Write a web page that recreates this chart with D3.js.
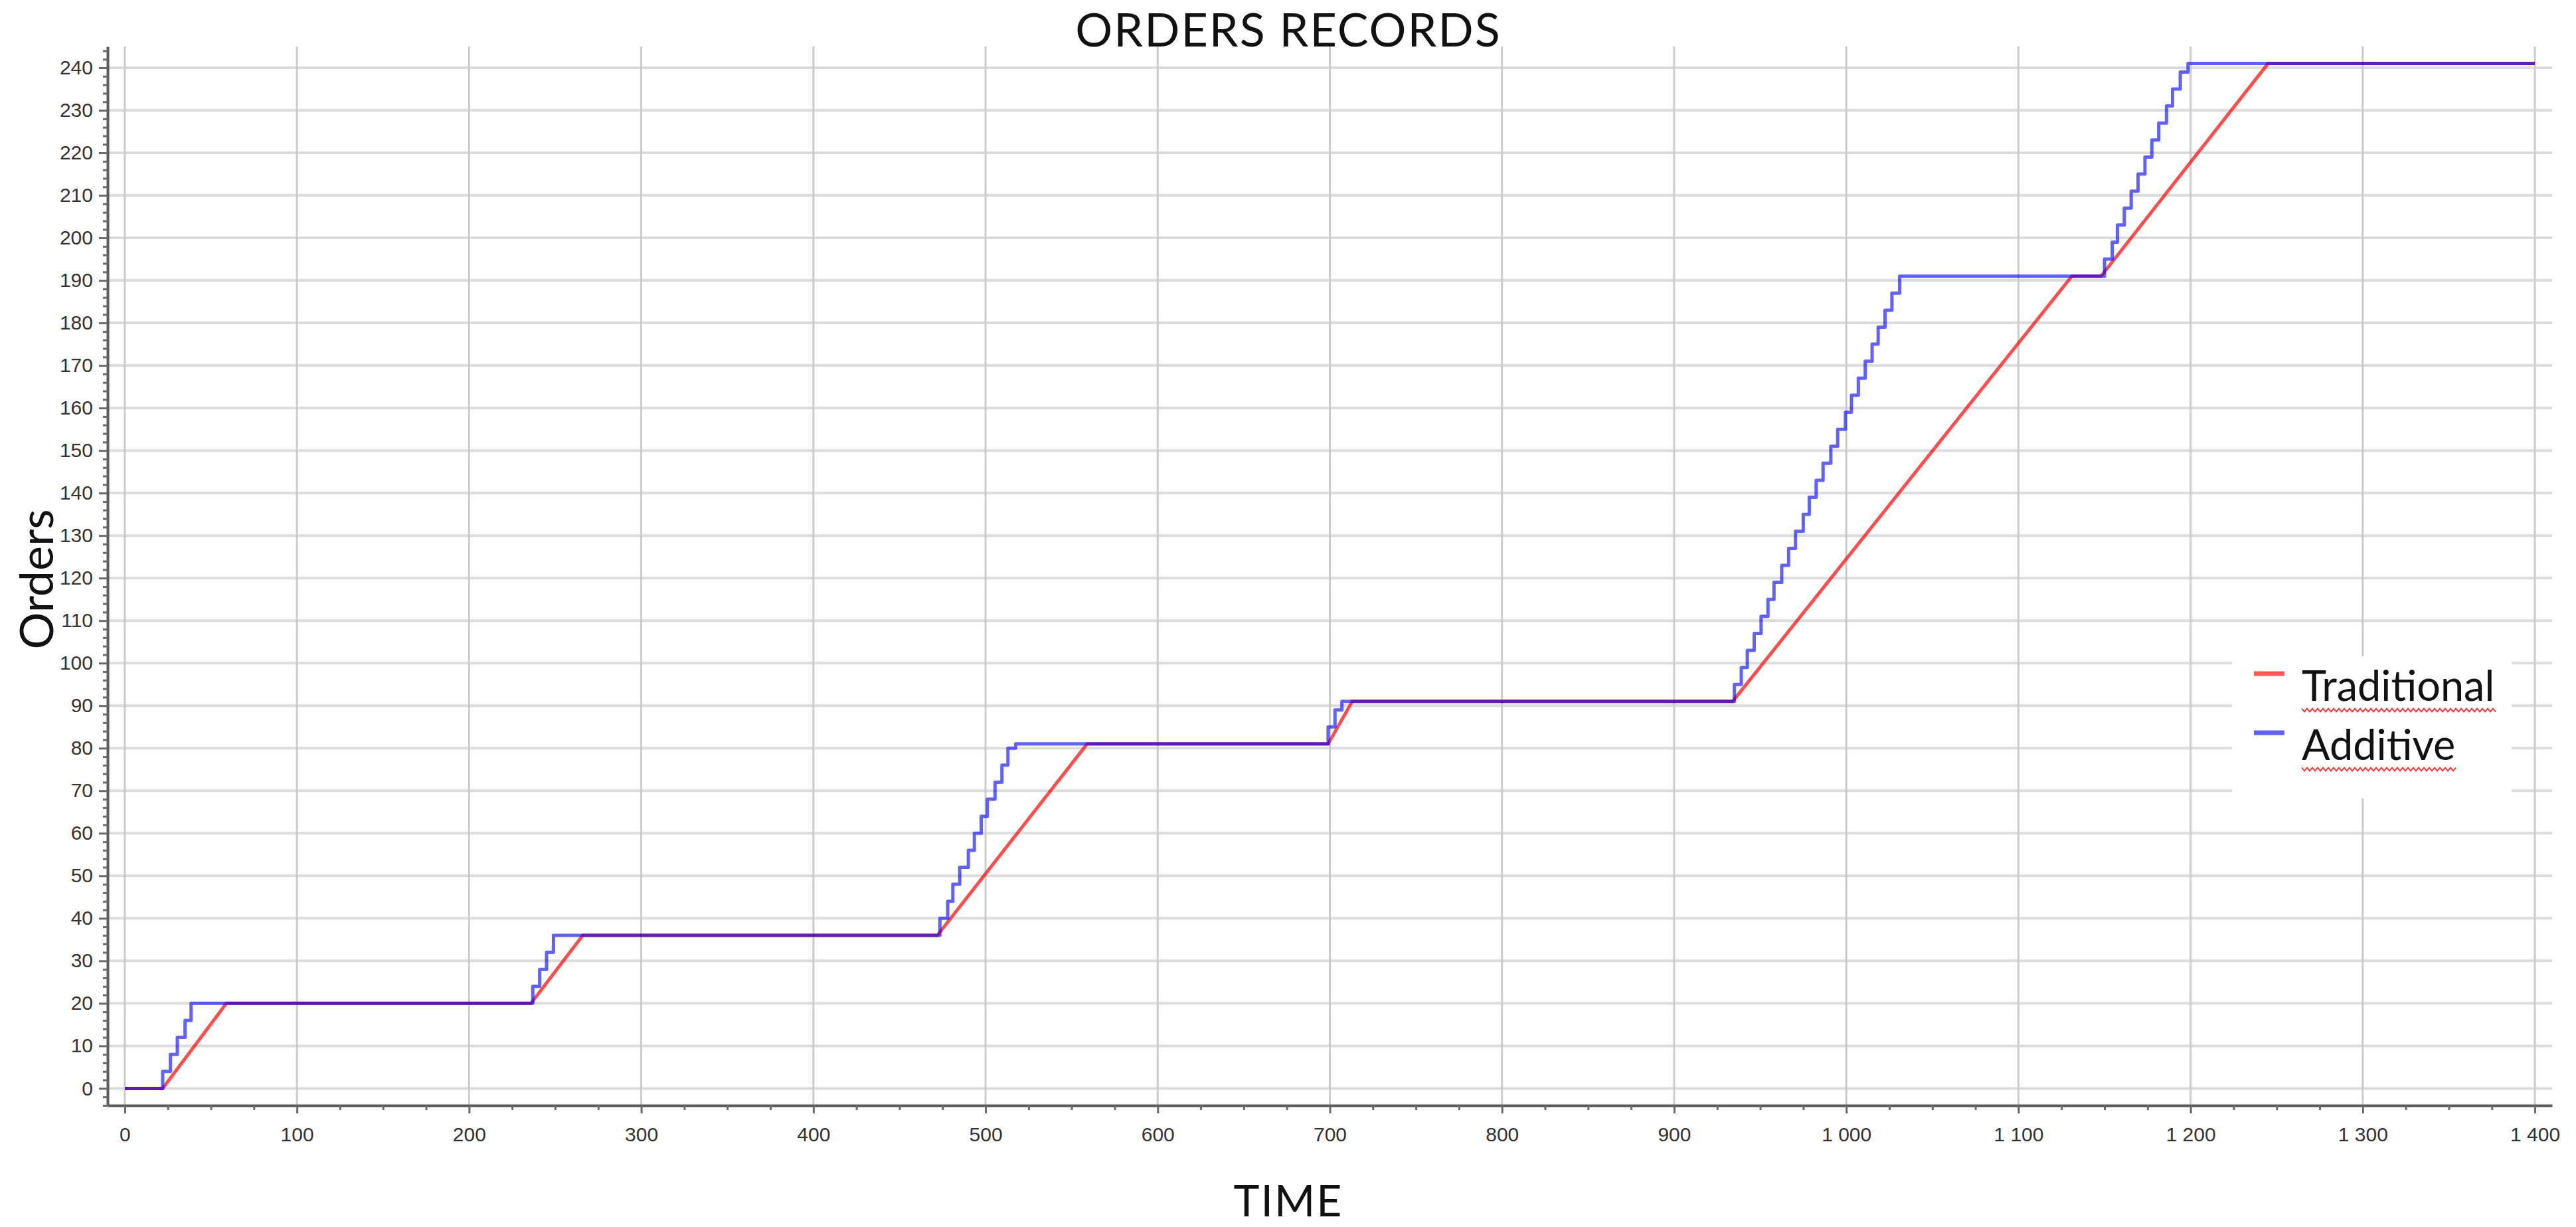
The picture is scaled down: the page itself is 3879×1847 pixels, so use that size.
<!DOCTYPE html>
<html>
<head>
<meta charset="utf-8">
<script src="https://cdn.jsdelivr.net/npm/d3@7"></script>
<style>
  body { margin: 0; background: #fff; }
  svg { display: block; }
  .axis-label { font-family: "Liberation Sans", Arial, sans-serif; font-size: 30px; fill: #333; }
  .title { font-family: Lato, "Open Sans", sans-serif; fill: #111; }
</style>
</head>
<body>
<svg></svg>
<script>
// series: time (x) and cumulative orders (y)
const traditionalTime   = [0, 22, 59, 236, 266, 472, 559, 699, 713, 934, 1131, 1148, 1245, 1400];
const traditionalOrders = [0, 0, 20, 20, 36, 36, 81, 81, 91, 91, 191, 191, 241, 241];

const additiveTime = [0, 22, 26.5, 30.5, 35, 38.5,
  237, 241, 245, 249,
  473.5, 478, 481, 485, 490, 493.5, 497.5, 501, 505.5, 509.5, 513, 517.5,
  699, 703, 707,
  935, 939, 942.5, 946.5, 950.5, 954.5, 958, 962.5, 966.5, 970.5, 975, 978.5, 982.5, 986.5,
  991, 995, 999.5, 1003, 1007, 1011, 1015, 1018.5, 1022.5, 1026.5, 1031,
  1150, 1154.5, 1157.5, 1161.5, 1165.5, 1169.5, 1173.5, 1177.5, 1181.5, 1186, 1189.5, 1194, 1198.5,
  1400];
const additiveOrders = [0, 4, 8, 12, 16, 20,
  24, 28, 32, 36,
  40, 44, 48, 52, 56, 60, 64, 68, 72, 76, 80, 81,
  85, 89, 91,
  95, 99, 103, 107, 111, 115, 119, 123, 127, 131, 135, 139, 143, 147,
  151, 155, 159, 163, 167, 171, 175, 179, 183, 187, 191,
  195, 199, 203, 207, 211, 215, 219, 223, 227, 231, 235, 239, 241,
  241];

const seriesNames = ["Traditional", "Additive"];
const xTickValues = [0, 100, 200, 300, 400, 500, 600, 700, 800, 900, 1000, 1100, 1200, 1300, 1400];
const yTickValues = [0, 10, 20, 30, 40, 50, 60, 70, 80, 90, 100, 110, 120, 130, 140, 150, 160, 170, 180, 190, 200, 210, 220, 230, 240];

const W = 3879, H = 1847;
const margin = { top: 70, right: 36, bottom: 183, left: 162 };
const width = W - margin.left - margin.right;
const height = H - margin.top - margin.bottom;

const svgRoot = d3.select("svg").attr("width", W).attr("height", H);
const svg = svgRoot.append("g")
  .attr("transform", `translate(${margin.left},${margin.top})`);

const x = d3.scaleLinear().domain([-10, 1410]).range([0, width]);
const y = d3.scaleLinear().domain([-4, 245]).range([height, 0]);

const fmt = d3.formatLocale({ decimal: ".", thousands: " ", grouping: [3], currency: ["", ""] }).format(",");

// grid
svg.append("g")
  .selectAll("line")
  .data(yTickValues)
  .join("line")
  .attr("x1", 0).attr("x2", width)
  .attr("y1", d => y(d)).attr("y2", d => y(d))
  .attr("stroke", "#dcdcdc").attr("stroke-width", 4);

svg.append("g")
  .selectAll("line")
  .data(xTickValues)
  .join("line")
  .attr("x1", d => x(d)).attr("x2", d => x(d))
  .attr("y1", 0).attr("y2", height)
  .attr("stroke", "#cccccc").attr("stroke-width", 3);

// minor ticks
const xMinor = d3.range(0, 1401, 25).filter(d => d % 100 !== 0);
const yMinor = d3.range(-4, 245, 2).filter(d => d % 10 !== 0);

svg.append("g")
  .attr("transform", `translate(0,${height})`)
  .call(d3.axisBottom(x).tickValues(xTickValues).tickFormat(fmt).tickSize(12).tickPadding(21).tickSizeOuter(0));
svg.append("g")
  .attr("transform", `translate(0,${height})`)
  .call(d3.axisBottom(x).tickValues(xMinor).tickFormat("").tickSize(7).tickSizeOuter(0))
  .select(".domain").remove();

svg.append("g")
  .call(d3.axisLeft(y).tickValues(yTickValues).tickSize(13).tickPadding(9).tickSizeOuter(0));
svg.append("g")
  .call(d3.axisLeft(y).tickValues(yMinor).tickFormat("").tickSize(7).tickSizeOuter(0))
  .select(".domain").remove();

svg.selectAll(".domain").attr("stroke", "#5a5a5a").attr("stroke-width", 4);
svg.selectAll(".tick line").attr("stroke", "#6a6a6a").attr("stroke-width", 3);
svg.selectAll(".tick text").attr("class", "axis-label");

// lines
const line = d3.line()
  .x(d => x(d[0]))
  .y(d => y(d[1]));

const traditional = traditionalTime.map((t, i) => [t, traditionalOrders[i]]);
const additive = additiveTime.map((t, i) => [t, additiveOrders[i]]);

svg.append("path")
  .datum(traditional)
  .attr("fill", "none")
  .attr("stroke", "rgb(255,0,0)")
  .attr("stroke-opacity", 0.7)
  .attr("stroke-width", 5)
  .attr("stroke-linejoin", "round")
  .attr("d", line);

svg.append("path")
  .datum(additive)
  .attr("fill", "none")
  .attr("stroke", "rgb(0,0,255)")
  .attr("stroke-opacity", 0.62)
  .attr("stroke-width", 5)
  .attr("stroke-linejoin", "round")
  .attr("d", line.curve(d3.curveStepAfter));

// titles
svgRoot.append("text")
  .attr("class", "title")
  .attr("x", 1940).attr("y", 70)
  .attr("text-anchor", "middle")
  .attr("font-size", 70)
  .attr("letter-spacing", 2)
  .text("ORDERS RECORDS");

svgRoot.append("text")
  .attr("class", "title")
  .attr("x", 1940).attr("y", 1831)
  .attr("text-anchor", "middle")
  .attr("font-size", 66)
  .attr("letter-spacing", 2)
  .text("TIME");

svgRoot.append("text")
  .attr("class", "title")
  .attr("transform", "translate(80,872) rotate(-90)")
  .attr("text-anchor", "middle")
  .attr("font-size", 70)
  .text("Orders");

// legend
const legendColors = ["rgba(255,0,0,0.65)", "rgba(0,0,255,0.62)"];
const legend = svgRoot.append("g").attr("transform", "translate(3361,988)");
legend.append("rect").attr("width", 421).attr("height", 214).attr("fill", "#fff");

const item = legend.selectAll(".item")
  .data(seriesNames)
  .join("g")
  .attr("class", "item")
  .attr("transform", (d, i) => `translate(0,${i * 89 - 13})`);

item.append("line")
  .attr("x1", 33).attr("x2", 79)
  .attr("y1", 39).attr("y2", 39)
  .attr("stroke", (d, i) => legendColors[i])
  .attr("stroke-width", 7);

item.append("text")
  .attr("class", "title")
  .attr("x", 105).attr("y", 80)
  .attr("font-size", 63)
  .attr("fill", "#111")
  .text(d => d);

// spell-check squiggles under the legend words
item.each(function () {
  const g = d3.select(this);
  const w = g.select("text").node().getComputedTextLength();
  const pts = [];
  for (let k = 0; k * 4 <= w + 4; k++) pts.push([105 + k * 4, 94 + (k % 2 ? 2.5 : -2.5)]);
  g.append("path")
    .attr("d", d3.line()(pts))
    .attr("fill", "none")
    .attr("stroke", "#ff3030")
    .attr("stroke-width", 2);
});
</script>
</body>
</html>
